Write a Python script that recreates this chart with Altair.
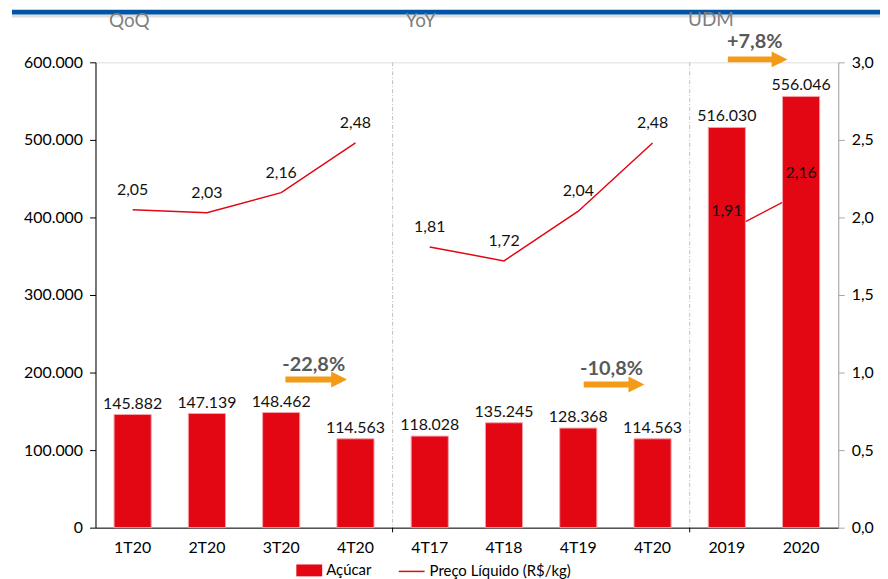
import altair as alt
import pandas as pd

# ---------------- data ----------------
keys = ["1T20|q", "2T20|q", "3T20|q", "4T20|q",
        "4T17|y", "4T18|y", "4T19|y", "4T20|y",
        "2019|u", "2020|u"]
groups = ["QoQ"] * 4 + ["YoY"] * 4 + ["UDM"] * 2
acucar = [145882, 147139, 148462, 114563, 118028, 135245, 128368, 114563, 516030, 556046]
preco = [2.05, 2.03, 2.16, 2.48, 1.81, 1.72, 2.04, 2.48, 1.91, 2.16]

section_titles = ["QoQ", "YoY", "UDM"]
section_title_x = [0.455, 4.378, 8.286]          # in category-band units
section_title_y = [653000, 653000, 654000]

change_labels = ["-22,8%", "-10,8%", "+7,8%"]
change_text_x = [2.938, 6.948, 8.876]
change_text_y = [210250, 205100, 625600]
arrow_start = [2.557, 6.573, 8.514]
arrow_head = [3.28, 7.283, 9.21]
arrow_y = [191000, 184600, 603800]

group_bounds = [4, 8]

RED = "#E30613"
ORANGE = "#F39B17"
FONT = "Lato"

df = pd.DataFrame({
    "key": keys,
    "grupo": groups,
    "acucar": acucar,
    "preco": preco,
})
df["acucar_lbl"] = [f"{v:,}".replace(",", ".") for v in acucar]
df["preco_lbl"] = [f"{v:.2f}".replace(".", ",") for v in preco]
df["serie_bar"] = "Açúcar"
df["serie_line"] = "Preço Líquido (R$/kg)"

titles_df = pd.DataFrame({"t": section_titles, "x": section_title_x, "y": section_title_y})
changes_df = pd.DataFrame({"t": change_labels, "x": change_text_x, "y": change_text_y,
                           "a0": arrow_start, "a1": arrow_head, "ay": arrow_y})
bounds_df = pd.DataFrame({"b": group_bounds, "top": [600000] * 2, "bot": [0] * 2, "tick": [-6000] * 2})

# ---------------- scales / encodings ----------------
band_scale = alt.Scale(domain=keys, paddingInner=0.5, paddingOuter=0.25)
x_axis = alt.Axis(title=None, labelExpr="split(datum.label, '|')[0]", ticks=False, tickSize=0,
                  domainColor="#000000", domainWidth=1, labelFont=FONT, labelFontSize=16,
                  labelColor="#000000", labelPadding=12, labelAngle=0)
x_band_axis = alt.X("key:N", sort=keys, scale=band_scale, axis=x_axis)
x_band = alt.X("key:N", sort=keys, scale=band_scale, axis=None)

left_scale = alt.Scale(domain=[0, 600000], nice=False, zero=True)
right_scale = alt.Scale(domain=[0, 3], nice=False, zero=True)
unit_scale = alt.Scale(domain=[0, 10], nice=False, zero=True)

left_axis = alt.Axis(title=None, orient="left", values=[0, 100000, 200000, 300000, 400000, 500000, 600000],
                     labelExpr="replace(format(datum.value, ','), ',', '.')", grid=False,
                     domainColor="#000000", tickColor="#000000", tickSize=6, labelPadding=7,
                     labelFont=FONT, labelFontSize=16, labelColor="#000000")
right_axis = alt.Axis(title=None, orient="right", values=[0, 0.5, 1, 1.5, 2, 2.5, 3],
                      labelExpr="replace(format(datum.value, '.1f'), '.', ',')", grid=False,
                      domainColor="#A6A6A6", tickColor="#A6A6A6", tickSize=6, labelPadding=7,
                      labelFont=FONT, labelFontSize=16, labelColor="#000000")

base = alt.Chart(df)

line = base.mark_line(strokeWidth=1.5).encode(
    x=x_band,
    y=alt.Y("preco:Q", scale=right_scale, axis=right_axis),
    detail="grupo:N",
    stroke=alt.Stroke("serie_line:N", scale=alt.Scale(domain=["Preço Líquido (R$/kg)"], range=[RED]),
                      legend=alt.Legend(orient="none", legendX=304, legendY=498, title=None,
                                        symbolType="stroke", symbolSize=676, symbolStrokeWidth=1.5,
                                        labelFont=FONT, labelFontSize=15, labelColor="#000000",
                                        labelOffset=4)),
)

bars = base.mark_bar(stroke="#F3A3A8", strokeWidth=1).encode(
    x=x_band_axis,
    y=alt.Y("acucar:Q", scale=left_scale, axis=left_axis),
    fill=alt.Fill("serie_bar:N", scale=alt.Scale(domain=["Açúcar"], range=[RED]),
                  legend=alt.Legend(orient="none", legendX=202, legendY=498, title=None,
                                    symbolType="M-1,-0.46H1V0.46H-1Z", symbolSize=676,
                                    symbolStrokeWidth=0, labelFont=FONT, labelFontSize=15,
                                    labelColor="#000000", labelOffset=4)),
)

bar_labels = base.mark_text(baseline="bottom", dy=-3, font=FONT, fontSize=16, color="#111111").encode(
    x=x_band,
    y=alt.Y("acucar:Q", scale=left_scale, axis=None),
    text="acucar_lbl:N",
)

line_labels = base.mark_text(baseline="middle", dy=-20, font=FONT, fontSize=16, color="#111111").encode(
    x=x_band,
    y=alt.Y("preco:Q", scale=right_scale, axis=None),
    text="preco_lbl:N",
)

separators = alt.Chart(bounds_df).mark_rule(color="#BFBFBF", strokeWidth=1, strokeDash=[4, 2, 1, 2]).encode(
    x=alt.X("b:Q", scale=unit_scale, axis=None),
    y=alt.Y("top:Q", scale=left_scale, axis=None),
    y2="bot:Q",
)
sep_ticks = alt.Chart(bounds_df).mark_rule(color="#000000", strokeWidth=1).encode(
    x=alt.X("b:Q", scale=unit_scale, axis=None),
    y=alt.Y("bot:Q", scale=left_scale, axis=None),
    y2="tick:Q",
)

titles = alt.Chart(titles_df).mark_text(font=FONT, fontSize=19, color="#7F7F7F", baseline="middle").encode(
    x=alt.X("x:Q", scale=unit_scale, axis=None),
    y=alt.Y("y:Q", scale=left_scale, axis=None),
    text="t:N",
)

change_text = alt.Chart(changes_df).mark_text(font=FONT, fontSize=20, fontWeight="bold", color="#595959",
                                              baseline="middle").encode(
    x=alt.X("x:Q", scale=unit_scale, axis=None),
    y=alt.Y("y:Q", scale=left_scale, axis=None),
    text="t:N",
)
arrow_shaft = alt.Chart(changes_df).mark_rule(color=ORANGE, strokeWidth=6).encode(
    x=alt.X("a0:Q", scale=unit_scale, axis=None),
    x2="a1:Q",
    y=alt.Y("ay:Q", scale=left_scale, axis=None),
)
arrow_tip = alt.Chart(changes_df).mark_point(shape="M-1,-1L1,0L-1,1Z", size=256, filled=True,
                                             color=ORANGE, opacity=1).encode(
    x=alt.X("a1:Q", scale=unit_scale, axis=None),
    y=alt.Y("ay:Q", scale=left_scale, axis=None),
)

header = alt.Chart(pd.DataFrame({"h": [0]})).mark_rect(color="#0055A5").encode(
    x=alt.value(-84), x2=alt.value(789), y=alt.value(-53), y2=alt.value(-48),
)
header_shadow = alt.Chart(pd.DataFrame({"h": [0]})).mark_rect(color="#C8C8C8", opacity=0.6).encode(
    x=alt.value(-84), x2=alt.value(789), y=alt.value(-48), y2=alt.value(-45),
)

chart = alt.layer(
    header_shadow, header, separators, sep_ticks, line, bars, bar_labels, line_labels,
    titles, arrow_shaft, arrow_tip, change_text,
).resolve_scale(
    x="independent", y="independent", fill="independent", stroke="independent",
).properties(
    width=747, height=468,
    autosize=alt.AutoSizeParams(type="none"),
    padding={"left": 88, "top": 53, "right": 42, "bottom": 50},
).configure_view(stroke=None).configure(background="white")

chart.save("out.html", embed_options={"renderer": "svg", "actions": False})
